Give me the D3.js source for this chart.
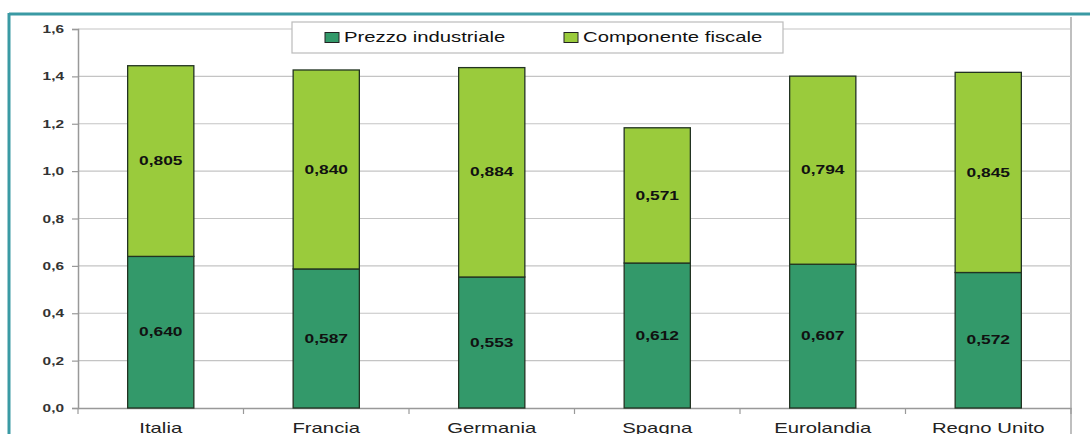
<!DOCTYPE html>
<html><head><meta charset="utf-8">
<script src="https://cdn.jsdelivr.net/npm/d3@7"></script>
<style>body{margin:0;background:#fff;}svg{display:block;font-family:"Liberation Sans",Arial,sans-serif;}</style>
</head><body>
<svg id="c" width="1090" height="434"></svg>
<script>
const categories = ["Italia","Francia","Germania","Spagna","Eurolandia","Regno Unito"];
const prezzoIndustriale = [0.640,0.587,0.553,0.612,0.607,0.572];
const componenteFiscale = [0.805,0.840,0.884,0.571,0.794,0.845];
const seriesNames = ["Prezzo industriale","Componente fiscale"];
const yTicks = [0,0.2,0.4,0.6,0.8,1.0,1.2,1.4,1.6];

const colors = ["#33996a","#9acb3c"];
const SX = 1.45;
const svg = d3.select("#c");
const L = 78, R = 1071, T = 29, B = 408;
const x = d3.scaleBand().domain(categories).range([L, R]).paddingInner(0.6).paddingOuter(0.3);
const xb = d3.scaleBand().domain(categories).range([L, R]);
const y = d3.scaleLinear().domain([0,1.6]).range([B, T]);
const fmt = v => d3.format(".1f")(v).replace(".", ",");
const fmt3 = v => d3.format(".3f")(v).replace(".", ",");

function stretch(sel, sx) {
  sel.each(function() {
    const t = d3.select(this);
    const x0 = +(t.attr("x") || 0);
    t.attr("x", x0 / sx).attr("transform", `scale(${sx},1)`);
  });
}

// frame
svg.append("line").attr("x1",9).attr("x2",1090).attr("y1",14).attr("y2",14).attr("stroke","#3a9aa4").attr("stroke-width",3);
svg.append("line").attr("x1",9).attr("x2",9).attr("y1",13).attr("y2",434).attr("stroke","#3a9aa4").attr("stroke-width",3);
svg.append("line").attr("x1",R).attr("x2",R).attr("y1",17).attr("y2",434).attr("stroke","#aaa").attr("stroke-width",1.5);

// grid
svg.append("g").selectAll("line").data(yTicks.slice(1)).join("line")
  .attr("x1",L).attr("x2",R).attr("y1",d=>y(d)).attr("y2",d=>y(d))
  .attr("stroke","#c4c4c4").attr("stroke-width",1.2);

// y axis
const ya = svg.append("g").attr("transform",`translate(${L},0)`)
  .call(d3.axisLeft(y).tickValues(yTicks).tickFormat(fmt).tickSize(6).tickPadding(8));
ya.select(".domain").attr("stroke","#999").attr("stroke-width",1.5);
ya.selectAll(".tick line").attr("stroke","#999").attr("stroke-width",1.2);
ya.selectAll("text").attr("font-size",11).attr("fill","#333").attr("font-weight","bold").attr("font-family","Liberation Sans, Arial, sans-serif");
stretch(ya.selectAll("text"), 1.4);

// x axis
const xa = svg.append("g").attr("transform",`translate(0,${B})`)
  .call(d3.axisBottom(xb).tickSize(0).tickPadding(15));
xa.select(".domain").attr("stroke","#999").attr("stroke-width",1.5);
xa.selectAll("text").attr("font-size",14).attr("fill","#222").attr("font-family","Liberation Sans, Arial, sans-serif");
stretch(xa.selectAll("text"), SX);
svg.append("g").selectAll("line").data(categories.concat(["_end"])).join("line")
  .attr("x1",(d,i)=>L + i*xb.step()).attr("x2",(d,i)=>L + i*xb.step())
  .attr("y1",B).attr("y2",B+6).attr("stroke","#999").attr("stroke-width",1.2);

// bars
const stacked = categories.map((c,i)=>({c, a:prezzoIndustriale[i], b:componenteFiscale[i]}));
const g = svg.append("g");
g.selectAll("rect.a").data(stacked).join("rect")
  .attr("x",d=>x(d.c)).attr("width",x.bandwidth())
  .attr("y",d=>y(d.a)).attr("height",d=>y(0)-y(d.a))
  .attr("fill",colors[0]).attr("stroke","#223322").attr("stroke-width",1.3);
g.selectAll("rect.b").data(stacked).join("rect")
  .attr("x",d=>x(d.c)).attr("width",x.bandwidth())
  .attr("y",d=>y(d.a+d.b)).attr("height",d=>y(d.a)-y(d.a+d.b))
  .attr("fill",colors[1]).attr("stroke","#223322").attr("stroke-width",1.3);
const la = g.selectAll("text.a").data(stacked).join("text")
  .attr("x",d=>x(d.c)+x.bandwidth()/2).attr("y",d=>y(d.a/2)).attr("dy","0.35em")
  .attr("text-anchor","middle").attr("font-size",12).attr("font-weight","bold").attr("fill","#111")
  .text(d=>fmt3(d.a));
const lb = g.selectAll("text.b").data(stacked).join("text")
  .attr("x",d=>x(d.c)+x.bandwidth()/2).attr("y",d=>y(d.a+d.b/2)).attr("dy","0.35em")
  .attr("text-anchor","middle").attr("font-size",12).attr("font-weight","bold").attr("fill","#111")
  .text(d=>fmt3(d.b));
stretch(la, SX); stretch(lb, SX);

// legend
const lg = svg.append("g");
lg.append("rect").attr("x",292).attr("y",22).attr("width",491).attr("height",31)
  .attr("fill","#fff").attr("stroke","#bbb").attr("stroke-width",1.2);
const lx = [325,564];
seriesNames.forEach((n,i)=>{
  lg.append("rect").attr("x",lx[i]).attr("y",32.5).attr("width",14).attr("height",10)
    .attr("fill",colors[i]).attr("stroke","#222").attr("stroke-width",1);
  const t = lg.append("text").attr("x",lx[i]+19).attr("y",42.5).attr("font-size",14).attr("fill","#111").text(n);
  stretch(t, SX);
});
</script>
</body></html>
